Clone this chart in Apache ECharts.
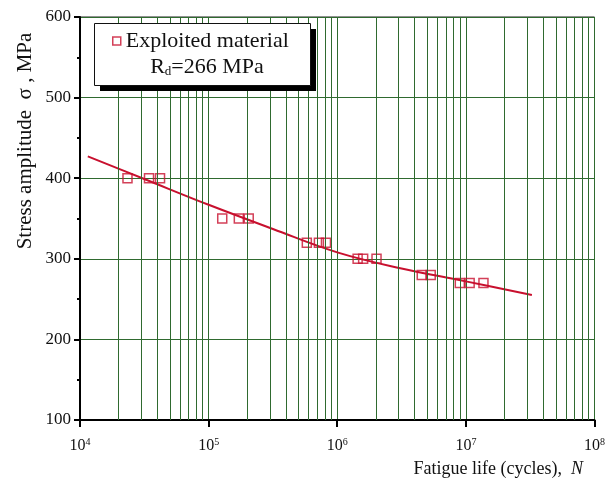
<!DOCTYPE html>
<html>
<head>
<meta charset="utf-8">
<script src="https://cdn.jsdelivr.net/npm/echarts@6/dist/echarts.min.js"></script>
<style>
  html, body { margin: 0; padding: 0; background: #fff; }
  #chart { width: 608px; height: 490px; }
</style>
</head>
<body>
<div id="chart"></div>
<script>
// measured points (cycles to failure, stress amplitude MPa)
const fatigueLife = [23400, 34400, 41900, 127600, 171700, 205000, 580000, 720000, 817000,
  1440000, 1590000, 2020000, 4540000, 5330000, 8970000, 10700000, 13700000];
const stressAmp = [400, 400, 400, 350, 350, 350, 320, 320, 320, 300, 300, 300, 280, 280, 270, 270, 270];

// fitted curve
const fitLife = [11500, 31600, 100000, 316000, 1000000, 3160000, 10000000, 32600000];
const fitStress = [427, 399, 367, 337, 308, 288, 272, 255];

const decades = [4, 5, 6, 7];
const seriesName = 'Exploited material';
const rdLabel = 'R{sub|d}=266 MPa';

const red = '#c8102e';
const green = '#2f6a2f';
const serif = '"Liberation Serif", "DejaVu Serif", serif';

// minor log grid: 2..9 x 10^n
let minorLines = [];
for (let i = 0; i < decades.length; i++) {
    for (let m = 2; m <= 9; m++) {
        minorLines.push({ xAxis: m * Math.pow(10, decades[i]) });
    }
}

let chart = echarts.init(document.getElementById('chart'), null, { renderer: 'canvas' });

let option = {
    backgroundColor: '#fff',
    animation: false,
    grid: {
        left: 80, right: 12, top: 17, bottom: 70,
        show: true, borderColor: '#222', borderWidth: 1
    },
    legend: {
        left: 94, top: 23, z: 20,
        padding: [7, 18, 33, 18],
        itemWidth: 8, itemHeight: 8, itemGap: 0,
        textStyle: { fontFamily: serif, fontSize: 22, color: '#111' },
        data: [{
            name: seriesName, icon: 'rect',
            itemStyle: { color: '#fff', borderColor: red, borderWidth: 1.5 }
        }]
    },
    xAxis: {
        type: 'log', logBase: 10, min: 1e4, max: 1e8,
        axisLine: { show: true, onZero: false, lineStyle: { color: '#000', width: 2 } },
        axisTick: { show: true, inside: false, length: 7, lineStyle: { color: '#000', width: 2 } },
        splitLine: { show: true, lineStyle: { color: green, width: 1 } },
        axisLabel: {
            margin: 17,
            formatter: function (v) {
                return '{b|10}{s|' + Math.round(Math.log10(v)) + '}';
            },
            rich: {
                b: { fontFamily: serif, fontSize: 16, color: '#111' },
                s: { fontFamily: serif, fontSize: 10, color: '#111', verticalAlign: 'top', padding: [0, 0, 8, 0] }
            }
        }
    },
    yAxis: {
        type: 'value', min: 100, max: 600, interval: 100,
        axisLine: { show: true, lineStyle: { color: '#000', width: 2 } },
        axisTick: { show: true, length: 6, lineStyle: { color: '#000', width: 2 } },
        minorTick: { show: true, splitNumber: 2, length: 3, lineStyle: { color: '#000', width: 2 } },
        splitLine: { show: true, lineStyle: { color: green, width: 1 } },
        axisLabel: { fontFamily: serif, fontSize: 17, color: '#111', margin: 9 }
    },
    series: [
        {
            name: 'grid',
            type: 'line',
            z: 1,
            data: [],
            silent: true,
            markLine: {
                silent: true,
                symbol: ['none', 'none'],
                label: { show: false },
                lineStyle: { color: green, width: 1, type: 'solid' },
                data: minorLines
            }
        },
        {
            name: 'fit',
            type: 'line',
            z: 3,
            smooth: 0.4,
            showSymbol: false,
            lineStyle: { color: red, width: 2 },
            data: fitLife.map((n, i) => [n, fitStress[i]])
        },
        {
            name: seriesName,
            type: 'scatter',
            z: 4,
            symbol: 'rect',
            symbolSize: 9,
            itemStyle: { color: 'rgba(255,255,255,0)', borderColor: red, borderWidth: 1.5 },
            data: fatigueLife.map((n, i) => [n, stressAmp[i]])
        }
    ],
    graphic: [
        // legend frame with hard drop shadow
        {
            type: 'rect', z: 15, silent: true,
            shape: { x: 100, y: 29, width: 216, height: 62 },
            style: { fill: '#000' }
        },
        {
            type: 'rect', z: 16, silent: true,
            shape: { x: 94.5, y: 23.5, width: 216, height: 62 },
            style: { fill: '#fff', stroke: '#111', lineWidth: 1 }
        },
        {
            type: 'text', x: 207, y: 67, z: 100,
            style: {
                text: rdLabel, textAlign: 'center', textVerticalAlign: 'middle',
                font: '22px ' + serif, fill: '#111',
                rich: { sub: { fontSize: 13, fontFamily: serif, fill: '#111', padding: [10, 0, 0, 0] } }
            }
        },
        {
            type: 'text', x: 25, y: 141, rotation: Math.PI / 2,
            style: {
                text: 'Stress amplitude  \u03c3 , MPa', textAlign: 'center', textVerticalAlign: 'middle',
                font: '21px ' + serif, fill: '#111'
            }
        },
        {
            type: 'text', x: 583, y: 469,
            style: {
                text: 'Fatigue life (cycles),  {i|N}', textAlign: 'right', textVerticalAlign: 'middle',
                font: '18px ' + serif, fill: '#111',
                rich: { i: { fontStyle: 'italic', fontSize: 18, fontFamily: serif, fill: '#111' } }
            }
        }
    ]
};

chart.setOption(option);
</script>
</body>
</html>
